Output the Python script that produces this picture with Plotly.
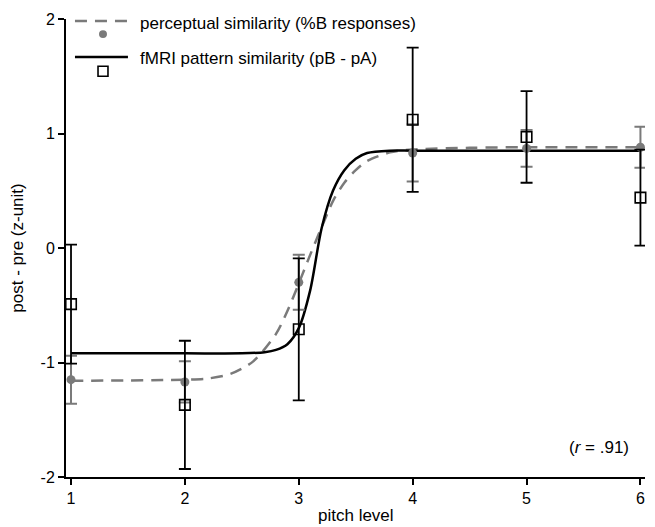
import plotly.graph_objects as go

# ---- data ----
pitch = [1, 2, 3, 4, 5, 6]
percept_mean = [-1.15, -1.17, -0.30, 0.83, 0.87, 0.88]
percept_err = [0.21, 0.18, 0.24, 0.25, 0.16, 0.18]
fmri_mean = [-0.49, -1.37, -0.71, 1.12, 0.97, 0.44]
fmri_err = [0.52, 0.56, 0.62, 0.63, 0.40, 0.42]

# fitted curves
fit_x_fmri = [1, 2, 2.5, 2.7, 2.8, 2.9, 3.0, 3.1, 3.2, 3.3, 3.4, 3.5, 3.6, 3.8, 4, 5, 6]
fit_y_fmri = [-0.92, -0.92, -0.92, -0.91, -0.89, -0.84, -0.70, -0.37, 0.17, 0.50, 0.68, 0.78, 0.83, 0.85, 0.85, 0.85, 0.85]
fit_x_perc = [1, 2, 2.2, 2.4, 2.6, 2.8, 2.9, 3.0, 3.1, 3.2, 3.3, 3.4, 3.5, 3.6, 3.8, 4, 4.5, 5, 6]
fit_y_perc = [-1.16, -1.15, -1.14, -1.10, -0.99, -0.75, -0.55, -0.31, -0.06, 0.18, 0.41, 0.57, 0.68, 0.76, 0.835, 0.86, 0.875, 0.88, 0.88]

x_ticks = [1, 2, 3, 4, 5, 6]
y_ticks = [-2, -1, 0, 1, 2]

legend_labels = ["perceptual similarity (%B responses)", "fMRI pattern similarity (pB - pA)"]

GRAY = "#7a7a7a"
FONT = "Liberation Sans, Arial, sans-serif"

fig = go.Figure()

fig.add_trace(go.Scatter(x=fit_x_perc, y=fit_y_perc, mode="lines",
                         line=dict(color=GRAY, width=2.5, dash="12px,8px", shape="spline", smoothing=0.8),
                         showlegend=False, hoverinfo="skip", cliponaxis=False))
fig.add_trace(go.Scatter(x=fit_x_fmri, y=fit_y_fmri, mode="lines",
                         line=dict(color="black", width=2.5, shape="spline", smoothing=0.8),
                         showlegend=False, hoverinfo="skip", cliponaxis=False))
fig.add_trace(go.Scatter(x=pitch, y=percept_mean, mode="markers",
                         marker=dict(color=GRAY, size=9, symbol="circle"),
                         error_y=dict(type="data", array=percept_err, color=GRAY, thickness=2, width=6),
                         showlegend=False, cliponaxis=False))
fig.add_trace(go.Scatter(x=pitch, y=fmri_mean, mode="markers",
                         marker=dict(color="black", size=10.5, symbol="square-open", line=dict(width=1.6, color="black")),
                         error_y=dict(type="data", array=fmri_err, color="black", thickness=1.8, width=6),
                         showlegend=False, cliponaxis=False))

# legend glyphs (paper coordinates)
shapes = [
    dict(type="line", xref="paper", yref="paper", x0=0.0155, x1=0.107, y0=0.9956, y1=0.9956,
         line=dict(color=GRAY, width=2.5, dash="12px,8px")),
    dict(type="circle", xref="paper", yref="paper", x0=0.0639 - 0.0069, x1=0.0639 + 0.0069,
         y0=0.967 - 0.0087, y1=0.967 + 0.0087, fillcolor=GRAY, line=dict(color=GRAY, width=0)),
    dict(type="line", xref="paper", yref="paper", x0=0.0155, x1=0.107, y0=0.917, y1=0.917,
         line=dict(color="black", width=2.5)),
    dict(type="rect", xref="paper", yref="paper", x0=0.0639 - 0.0086, x1=0.0639 + 0.0086,
         y0=0.886 - 0.0109, y1=0.886 + 0.0109, line=dict(color="black", width=1.6)),
]

annotations = [
    dict(text=legend_labels[0], xref="paper", yref="paper", x=0.125, y=0.991, xanchor="left", yanchor="middle",
         showarrow=False, font=dict(size=17, color="black", family=FONT)),
    dict(text=legend_labels[1], xref="paper", yref="paper", x=0.125, y=0.913, xanchor="left", yanchor="middle",
         showarrow=False, font=dict(size=17, color="black", family=FONT)),
    dict(text="(<i>r</i> = .91)", xref="paper", yref="paper", x=0.975, y=(477 - 447) / 458, xanchor="right",
         yanchor="middle", showarrow=False, font=dict(size=17, color="black", family=FONT)),
    dict(text="pitch level", xref="paper", yref="paper", x=0.5, y=(477 - 515) / 458, xanchor="center",
         yanchor="middle", showarrow=False, font=dict(size=17, color="black", family=FONT)),
]

# the page body adds an 8px margin, so the figure is sized/offset to compensate
fig.update_layout(
    width=647, height=519,
    margin=dict(l=58, r=10, t=11, b=50),
    plot_bgcolor="white", paper_bgcolor="white",
    font=dict(family=FONT, size=16, color="black"),
    shapes=shapes, annotations=annotations,
    showlegend=False,
    xaxis=dict(range=[0.956, 6.04], tickvals=x_ticks, ticktext=[str(t) for t in x_ticks],
               showline=True, linecolor="black", linewidth=2, ticks="outside", ticklen=6, tickwidth=2,
               tickcolor="black", showgrid=False, zeroline=False, automargin=False),
    yaxis=dict(range=[-2, 2], tickvals=y_ticks, ticktext=[str(t) for t in y_ticks],
               showline=True, linecolor="black", linewidth=2, ticks="outside", ticklen=6, tickwidth=2,
               tickcolor="black", showgrid=False, zeroline=False, automargin=False,
               title=dict(text="post - pre (z-unit)", standoff=20, font=dict(size=17))),
)

fig.write_html("out.html")
